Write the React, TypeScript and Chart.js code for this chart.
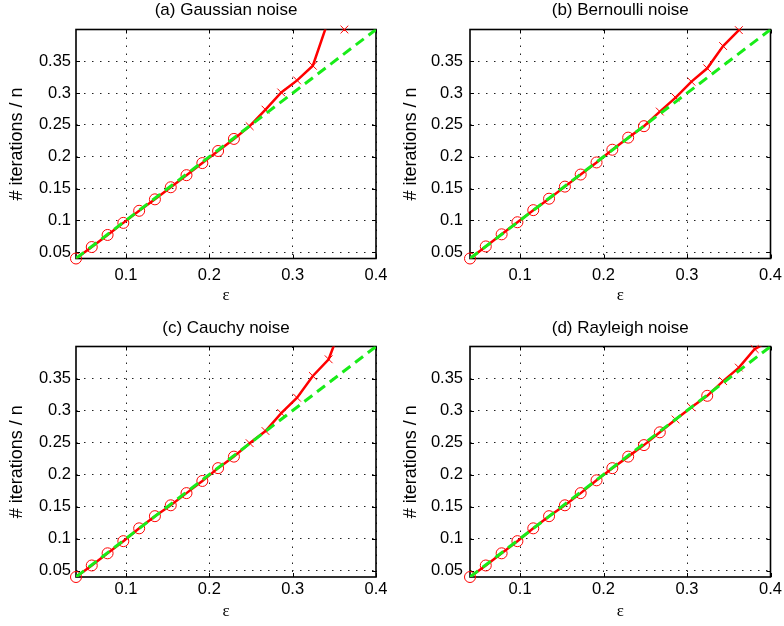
import React, { useEffect, useRef } from "react";
import { Chart, registerables } from "chart.js";

Chart.register(...registerables);
Chart.defaults.font.family = "'Liberation Sans', Arial, Helvetica, sans-serif";
Chart.defaults.color = "#000";

// ---------------- data ----------------
const epsilon = [0.04, 0.0589, 0.0779, 0.0968, 0.1158, 0.1347, 0.1537, 0.1726, 0.1916, 0.2105, 0.2295, 0.2484, 0.2674, 0.2863, 0.3053, 0.3242, 0.3432, 0.3621, 0.3811, 0.4];

const gaussian = [0.040, 0.058, 0.077, 0.096, 0.115, 0.133, 0.152, 0.171, 0.190, 0.209, 0.228, 0.248, 0.274, 0.301, 0.320, 0.343, 0.416, 0.400, 0.430, 0.450];
const bernoulli = [0.040, 0.059, 0.078, 0.097, 0.116, 0.134, 0.153, 0.172, 0.191, 0.211, 0.230, 0.248, 0.271, 0.293, 0.318, 0.339, 0.374, 0.399, 0.420, 0.440];
const cauchy = [0.040, 0.058, 0.077, 0.096, 0.116, 0.135, 0.152, 0.171, 0.190, 0.210, 0.228, 0.249, 0.268, 0.296, 0.320, 0.354, 0.380, 0.445, 0.470, 0.490];
const rayleigh = [0.040, 0.058, 0.077, 0.096, 0.116, 0.135, 0.152, 0.171, 0.191, 0.210, 0.228, 0.246, 0.266, 0.286, 0.305, 0.323, 0.346, 0.367, 0.396, 0.410];

// 1 = circle marker, 0 = cross marker
const gaussianRecovered = [1, 1, 1, 1, 1, 1, 1, 1, 1, 1, 1, 0, 0, 0, 0, 0, 0, 0, 0, 0];
const bernoulliRecovered = [1, 1, 1, 1, 1, 1, 1, 1, 1, 1, 1, 1, 0, 0, 0, 0, 0, 0, 0, 0];
const cauchyRecovered = [1, 1, 1, 1, 1, 1, 1, 1, 1, 1, 1, 0, 0, 0, 0, 0, 0, 0, 0, 0];
const rayleighRecovered = [1, 1, 1, 1, 1, 1, 1, 1, 1, 1, 1, 1, 1, 0, 0, 1, 0, 0, 0, 0];

const referenceX = [0.04, 0.4];
const referenceY = [0.04, 0.4];

const xTicks = [0.1, 0.2, 0.3, 0.4];
const yTicks = [0.05, 0.1, 0.15, 0.2, 0.25, 0.3, 0.35];
const xRange = [0.04, 0.4];
const yRange = [0.04, 0.4];

const panelTitles = ["(a) Gaussian noise", "(b) Bernoulli noise", "(c) Cauchy noise", "(d) Rayleigh noise"];
const xLabel = "ε";
const yLabel = "# iterations / n";

// ---------------- layout / style ----------------
const RED = "#ff0000";
const GREEN = "rgb(24, 236, 24)";

type Spec = {
  x: number; y: number; w: number; h: number;
  l: number; r: number; t: number; b: number;
  titleC: number; yTitleC: number; yGap: number; xTickC: number; xTitleC: number;
};

const specs: Spec[] = [
  { x: 0, y: 0, w: 392, h: 313, l: 76, r: 376, t: 29.5, b: 258.5, titleC: 10, yTitleC: 17.5, yGap: 5, xTickC: 275.5, xTitleC: 296 },
  { x: 392, y: 0, w: 392, h: 313, l: 78, r: 378.5, t: 29.5, b: 258.5, titleC: 10, yTitleC: 19, yGap: 7, xTickC: 275.5, xTitleC: 296 },
  { x: 0, y: 313, w: 392, h: 313, l: 76, r: 376, t: 33.5, b: 264, titleC: 15, yTitleC: 17.5, yGap: 5, xTickC: 276.7, xTitleC: 299 },
  { x: 392, y: 313, w: 392, h: 313, l: 78, r: 378.5, t: 33.5, b: 264, titleC: 15, yTitleC: 19, yGap: 7, xTickC: 276.7, xTitleC: 299 },
];

const boxPlugin = {
  id: "matlabBox",
  beforeDatasetsDraw(chart: any) {
    const { ctx, chartArea, scales } = chart;
    const { left, right, top, bottom } = chartArea;
    const sx = scales.x;
    const sy = scales.y;
    ctx.save();
    ctx.strokeStyle = "#000";
    ctx.lineWidth = 1;
    ctx.setLineDash([]);
    ctx.beginPath();
    xTicks.forEach((v) => {
      const px = Math.round(sx.getPixelForValue(v)) + 0.5;
      ctx.moveTo(px, bottom);
      ctx.lineTo(px, bottom - 4);
      ctx.moveTo(px, top);
      ctx.lineTo(px, top + 4);
    });
    yTicks.forEach((v) => {
      const py = Math.round(sy.getPixelForValue(v)) + 0.5;
      ctx.moveTo(left, py);
      ctx.lineTo(left + 4, py);
      ctx.moveTo(right, py);
      ctx.lineTo(right - 4, py);
    });
    ctx.stroke();
    ctx.lineWidth = 1.6;
    ctx.strokeRect(left, top, right - left, bottom - top);
    ctx.restore();
  },
};

const fmt = (v: number) => String(Math.round(v * 100) / 100);

function Panel({ spec, title, values, recovered }: { spec: Spec; title: string; values: number[]; recovered: number[] }) {
  const ref = useRef<HTMLCanvasElement>(null);
  useEffect(() => {
    const canvas = ref.current;
    if (!canvas) return;
    const tickFont = { size: 16.5, lineHeight: 1 };
    const chart = new Chart(canvas, {
      type: "line",
      data: {
        datasets: [
          {
            label: "reference",
            data: referenceX.map((x, i) => ({ x, y: referenceY[i] })),
            borderColor: GREEN,
            borderWidth: 3,
            borderDash: [10, 6],
            pointRadius: 0,
            fill: false,
            clip: 0,
            order: 0,
          },
          {
            label: "markers",
            data: epsilon.map((x, i) => ({ x, y: values[i] <= yRange[1] + 1e-9 ? values[i] : null })),
            showLine: false,
            pointStyle: recovered.map((m) => (m ? "circle" : "crossRot")),
            pointRadius: recovered.map((m) => (m ? 5.5 : 5.5)),
            pointBorderColor: RED,
            pointBackgroundColor: "rgba(0,0,0,0)",
            pointBorderWidth: 1,
            clip: false,
            order: 1,
          },
          {
            label: "iterations",
            data: epsilon.map((x, i) => ({ x, y: values[i] })),
            borderColor: RED,
            borderWidth: 2.5,
            pointRadius: 0,
            tension: 0,
            fill: false,
            clip: 0,
            order: 2,
          },
        ],
      } as any,
      options: {
        responsive: false,
        animation: false,
        events: [],
        layout: { padding: { left: 0, top: 0, right: spec.w - spec.r, bottom: 0 } },
        plugins: {
          legend: { display: false },
          tooltip: { enabled: false },
          title: {
            display: true,
            text: title,
            fullSize: false,
            color: "#000",
            font: { size: 17, weight: "normal", lineHeight: 1 },
            padding: { top: spec.titleC - 8.5, bottom: spec.t - 17 - (spec.titleC - 8.5) },
          },
        },
        scales: {
          x: {
            type: "linear",
            min: xRange[0],
            max: xRange[1],
            afterBuildTicks: (s: any) => {
              s.ticks = xTicks.map((v) => ({ value: v }));
            },
            afterFit: (s: any) => {
              s.height = spec.h - spec.b;
              s.paddingLeft = 0;
              s.paddingRight = 0;
            },
            ticks: {
              font: tickFont,
              color: "#000",
              padding: spec.xTickC - spec.b - 8.25,
              maxRotation: 0,
              autoSkip: false,
              callback: (v: any) => fmt(Number(v)),
            },
            grid: { color: "#222", lineWidth: 1, drawTicks: false },
            border: { display: false, dash: [1.5, 6.5] },
            title: {
              display: true,
              text: xLabel,
              color: "#000",
              font: { size: 17, family: "'Liberation Serif', 'Times New Roman', serif", lineHeight: 1 },
              padding: { top: 0, bottom: spec.h - spec.xTitleC - 8.5 },
            },
          },
          y: {
            type: "linear",
            min: yRange[0],
            max: yRange[1],
            afterBuildTicks: (s: any) => {
              s.ticks = yTicks.map((v) => ({ value: v }));
            },
            afterFit: (s: any) => {
              s.width = spec.l;
              s.paddingTop = 0;
              s.paddingBottom = 0;
            },
            ticks: {
              font: tickFont,
              color: "#000",
              padding: spec.yGap,
              autoSkip: false,
              callback: (v: any) => fmt(Number(v)),
            },
            grid: { color: "#222", lineWidth: 1, drawTicks: false },
            border: { display: false, dash: [1.5, 6.5] },
            title: {
              display: true,
              text: yLabel,
              color: "#000",
              font: { size: 18, lineHeight: 1 },
              padding: { top: spec.yTitleC - 9, bottom: 0 },
            },
          },
        },
      } as any,
      plugins: [boxPlugin],
    });
    return () => chart.destroy();
  }, []);
  return (
    <canvas
      ref={ref}
      width={spec.w}
      height={spec.h}
      style={{ position: "absolute", left: spec.x, top: spec.y, width: spec.w, height: spec.h }}
    />
  );
}

const seriesList = [gaussian, bernoulli, cauchy, rayleigh];
const recoveredList = [gaussianRecovered, bernoulliRecovered, cauchyRecovered, rayleighRecovered];

export default function App() {
  return (
    <div style={{ position: "fixed", left: 0, top: 0, width: 784, height: 626, background: "#fff", overflow: "hidden" }}>
      {specs.map((s, i) => (
        <Panel key={i} spec={s} title={panelTitles[i]} values={seriesList[i]} recovered={recoveredList[i]} />
      ))}
    </div>
  );
}
